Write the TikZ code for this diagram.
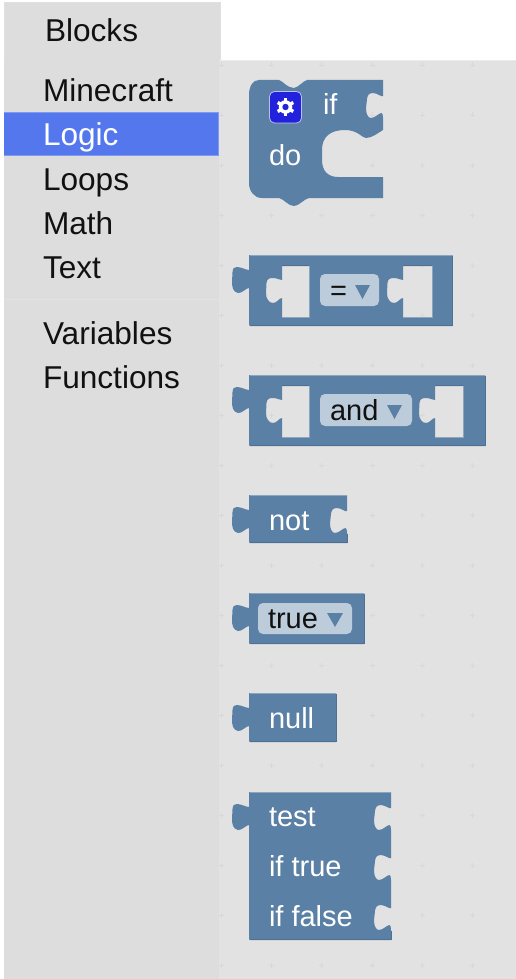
\documentclass[tikz,border=0pt]{standalone}
\usepackage{fontspec}
\setmainfont{Liberation Sans}
\definecolor{blk}{HTML}{5B80A5}
\definecolor{blkd}{HTML}{4F7092}
\definecolor{blkl}{HTML}{8CA6C0}
\definecolor{fieldc}{HTML}{BDCCDB}
\definecolor{panel}{HTML}{DDDDDD}
\definecolor{work}{HTML}{E2E2E2}
\definecolor{hl}{HTML}{5577EE}
\definecolor{dot}{HTML}{D8D8D8}
\definecolor{icon}{HTML}{2222DD}
\definecolor{inktxt}{HTML}{111111}
% left-pointing output tab on the left edge, travelling upward; #1 = x, #2 = block top
\newcommand{\outtab}[2]{-- (#1,#2+33) .. controls (#1-3,#2+33) and (#1-7,#2+38.5) .. (#1-11,#2+38)
  .. controls (#1-16,#2+37) and (#1-17,#2+32) .. (#1-17,#2+27)
  -- (#1-16.5,#2+17) .. controls (#1-16,#2+13) and (#1-15,#2+12) .. (#1-12,#2+12)
  .. controls (#1-8,#2+12) and (#1-3,#2+15) .. (#1,#2+15)}
% socket on the right edge, travelling downward; #1 = x, #2 = block top
\newcommand{\rsock}[2]{-- (#1,#2+16) .. controls (#1-1,#2+17.5) and (#1-6,#2+13) .. (#1-10,#2+13)
  .. controls (#1-14,#2+13) and (#1-15.5,#2+15) .. (#1-16,#2+19)
  -- (#1-17,#2+28) .. controls (#1-17,#2+34) and (#1-15,#2+38) .. (#1-12,#2+38)
  .. controls (#1-8,#2+38) and (#1-4,#2+33) .. (#1-1.5,#2+33) .. controls (#1-.5,#2+33) and (#1,#2+35) .. (#1,#2+38)}
% hole with a socket: #1 = inner left x, #2 = right x, #3 = top y, #4 = bottom y
\newcommand{\hole}[4]{(#1,#3) -- (#1,#3+14) .. controls (#1-3,#3+14) and (#1-5,#3+12) .. (#1-9,#3+12)
  .. controls (#1-13,#3+12) and (#1-15,#3+13) .. (#1-15.5,#3+17)
  -- (#1-16,#3+27) .. controls (#1-16,#3+33) and (#1-13,#3+37) .. (#1-9,#3+37)
  .. controls (#1-5,#3+37) and (#1-3,#3+32) .. (#1,#3+32) -- (#1,#4) -- (#2,#4) -- (#2,#3) -- cycle}
% faint rims of a hole: #1 = left x, #2 = right x, #3 = top y, #4 = bottom y
\newcommand{\holerim}[4]{\draw[edgelight] (#1,#4+.3) -- (#2+.3,#4+.3) -- (#2+.3,#3);
  \draw[edgedark] (#1,#3-.3) -- (#2,#3-.3);}
\tikzset{
  x=1pt,y=-1pt,
  blockshape/.style={fill=blk,draw=none,even odd rule},
  edgedark/.style={draw=blkd,line width=1pt},
  edgelight/.style={draw=blkl,line width=.7pt},
  blocktext/.style={anchor=base west,inner sep=0pt,outer sep=0pt,text=white,font=\fontsize{29}{29}\selectfont},
  fieldtext/.style={anchor=base west,inner sep=0pt,outer sep=0pt,text=inktxt,font=\fontsize{29}{29}\selectfont},
  menutext/.style={anchor=base west,inner sep=0pt,outer sep=0pt,text=inktxt,font=\fontsize{31.6}{32}\selectfont},
  fieldbox/.style={fill=fieldc,rounded corners=5pt},
  arrowtri/.style={fill=blk},
}
\newcommand{\tri}[3]{\fill[arrowtri] (#1,#3) -- (#2,#3) -- ({(#1+#2)/2},#3+14) -- cycle;}
\begin{document}
\begin{tikzpicture}
\useasboundingbox (0,0) rectangle (516,979);
\fill[white] (0,0) rectangle (516,979);
% workspace
\fill[work] (219,60) rectangle (516,979);
\draw[line width=.6pt,draw=black!8] (219,60.3) -- (516,60.3);
% grid
\foreach \gx in {221,271,321,372,422,472}{
  \foreach \gy in {65,115,165,215,265,315,365,415,465,515,565,615,665,715,765,815,865,915,965}{
    \draw[dot,line width=.9pt] (\gx-2.5,\gy) -- (\gx+2.5,\gy) (\gx,\gy-2.5) -- (\gx,\gy+2.5);
  }
}
% left panel and tab
\fill[panel] (4,60) rectangle (219,979);
\fill[panel] (4,2) rectangle (220,60);
\draw[black!12,line width=.8pt] (4,60) -- (4,2.4) -- (220,2.4) -- (220,60);
\draw[white!90!panel,line width=.8pt,draw=work] (4,299) -- (219,299);
\fill[hl] (4,112) rectangle (219,156);
\draw[hl!75!white,line width=.6pt] (4,112.3) -- (219,112.3) (4,155.7) -- (219,155.7) (218.7,112) -- (218.7,156);
\node[menutext] (tabBlocks) at (45,42) {Blocks};
\node[menutext] (mMinecraft) at (43,102) {Minecraft};
\node[menutext,text=white] (mLogic) at (43,145) {Logic};
\node[menutext] (mLoops) at (43,190) {Loops};
\node[menutext] (mMath) at (43,234) {Math};
\node[menutext] (mText) at (43,278) {Text};
\node[menutext] (mVariables) at (43,344) {Variables};
\node[menutext] (mFunctions) at (43,388) {Functions};
% --- if block
\fill[blk] (259,80) -- (279,80) .. controls (283,81) and (287,88) .. (294,88)
  .. controls (299,87) and (303,81) .. (307,80) -- (383,80) \rsock{383}{80}
  -- (383,130) .. controls (378,133) and (372,138) .. (366,138)
  .. controls (362,138) and (358,130) .. (345,130)
  .. controls (330,130) and (322,137) .. (322,150) -- (322,160)
  .. controls (322,171) and (328,177) .. (338,177) -- (383,177) -- (383,198) -- (309,198)
  .. controls (304,199) and (299,206) .. (294,206)
  .. controls (288,206) and (284,199) .. (279,198) -- (262,198)
  .. controls (254,198) and (249,191) .. (249,183) -- (249,95)
  .. controls (249,86) and (253,80) .. (259,80) -- cycle;
\fill[icon,draw=white!70!icon,line width=.8pt,rounded corners=5pt] (269.5,91.5) rectangle (301.5,123);
\foreach \ang in {0,60,120}{
  \draw[white,line width=3.4pt] (285.5,107) ++(\ang+30:9) -- ++(\ang+210:18);
}
\fill[white] (285.5,107) circle[radius=6.8];
\fill[icon] (285.5,107) circle[radius=3.2];
\node[blocktext] (tIf) at (323,115) {if};
\node[blocktext] (tDo) at (269,165) {do};
% --- = block
\path[blockshape] (249,255) -- (452.5,255) -- (452.5,326) -- (250,326) -- (249,325) \outtab{249}{255} -- cycle
  \hole{282}{309}{266}{317} \hole{403}{432}{266}{317};
\draw[edgelight] (249.5,255.4) -- (452,255.4);
\draw[edgedark] (250,325.5) -- (452.5,325.5) -- (452.5,256);
\holerim{282}{309}{266}{317}
\holerim{403}{432}{266}{317}
\path[fieldbox] (320,274) rectangle (379,306);
\node[fieldtext] (tEq) at (330,300) {=};
\tri{355}{370}{285}
% --- and block
\path[blockshape] (249,375) -- (485,375) -- (485,446) -- (250,446) -- (249,445) \outtab{249}{375} -- cycle
  \hole{282}{309}{386}{437} \hole{435}{463}{386}{437};
\draw[edgelight] (249.5,375.4) -- (484.5,375.4);
\draw[edgedark] (250,445.5) -- (485,445.5) -- (485,376);
\holerim{282}{309}{386}{437}
\holerim{435}{463}{386}{437}
\path[fieldbox] (320,394) rectangle (412,426);
\node[fieldtext] (tAnd) at (330,420) {and};
\tri{387}{402}{405}
% --- not block
\path[blockshape] (249,495) -- (347,495) \rsock{347}{495} -- (347,543) -- (250,543) -- (249,542) \outtab{249}{495} -- cycle;
\draw[edgelight] (249.5,495.4) -- (346.5,495.4);
\draw[edgedark] (250,542.5) -- (347,542.5) -- (347,534);
\node[blocktext] (tNot) at (269,530) {not};
% --- true block
\path[blockshape] (249,593) -- (364,593) -- (364,644) -- (250,644) -- (249,643) \outtab{249}{593} -- cycle;
\draw[edgelight] (249.5,593.4) -- (363.5,593.4);
\draw[edgedark] (250,643.5) -- (364,643.5) -- (364,594);
\path[fieldbox] (258,603) rectangle (352,634);
\node[fieldtext] (tTrue) at (268,628) {true};
\tri{327}{343}{613}
% --- null block
\path[blockshape] (249,693) -- (336,693) -- (336,742) -- (250,742) -- (249,741) \outtab{249}{693} -- cycle;
\draw[edgelight] (249.5,693.4) -- (335.5,693.4);
\draw[edgedark] (250,741.5) -- (336,741.5) -- (336,694);
\node[blocktext] (tNull) at (269,728) {null};
% --- ternary block
\path[blockshape] (249,792) -- (391,792) \rsock{391}{792} -- (391,842) \rsock{391}{842} -- (391,892) \rsock{391}{892}
  -- (391,940) -- (250,940) -- (249,939) \outtab{249}{792} -- cycle;
\draw[edgelight] (249.5,792.4) -- (390.5,792.4);
\draw[edgedark] (250,939.5) -- (391,939.5) -- (391,931);
\node[blocktext] (tTest) at (269,826) {test};
\node[blocktext] (tIfTrue) at (269,876) {if true};
\node[blocktext] (tIfFalse) at (269,926) {if false};
\end{tikzpicture}
\end{document}
